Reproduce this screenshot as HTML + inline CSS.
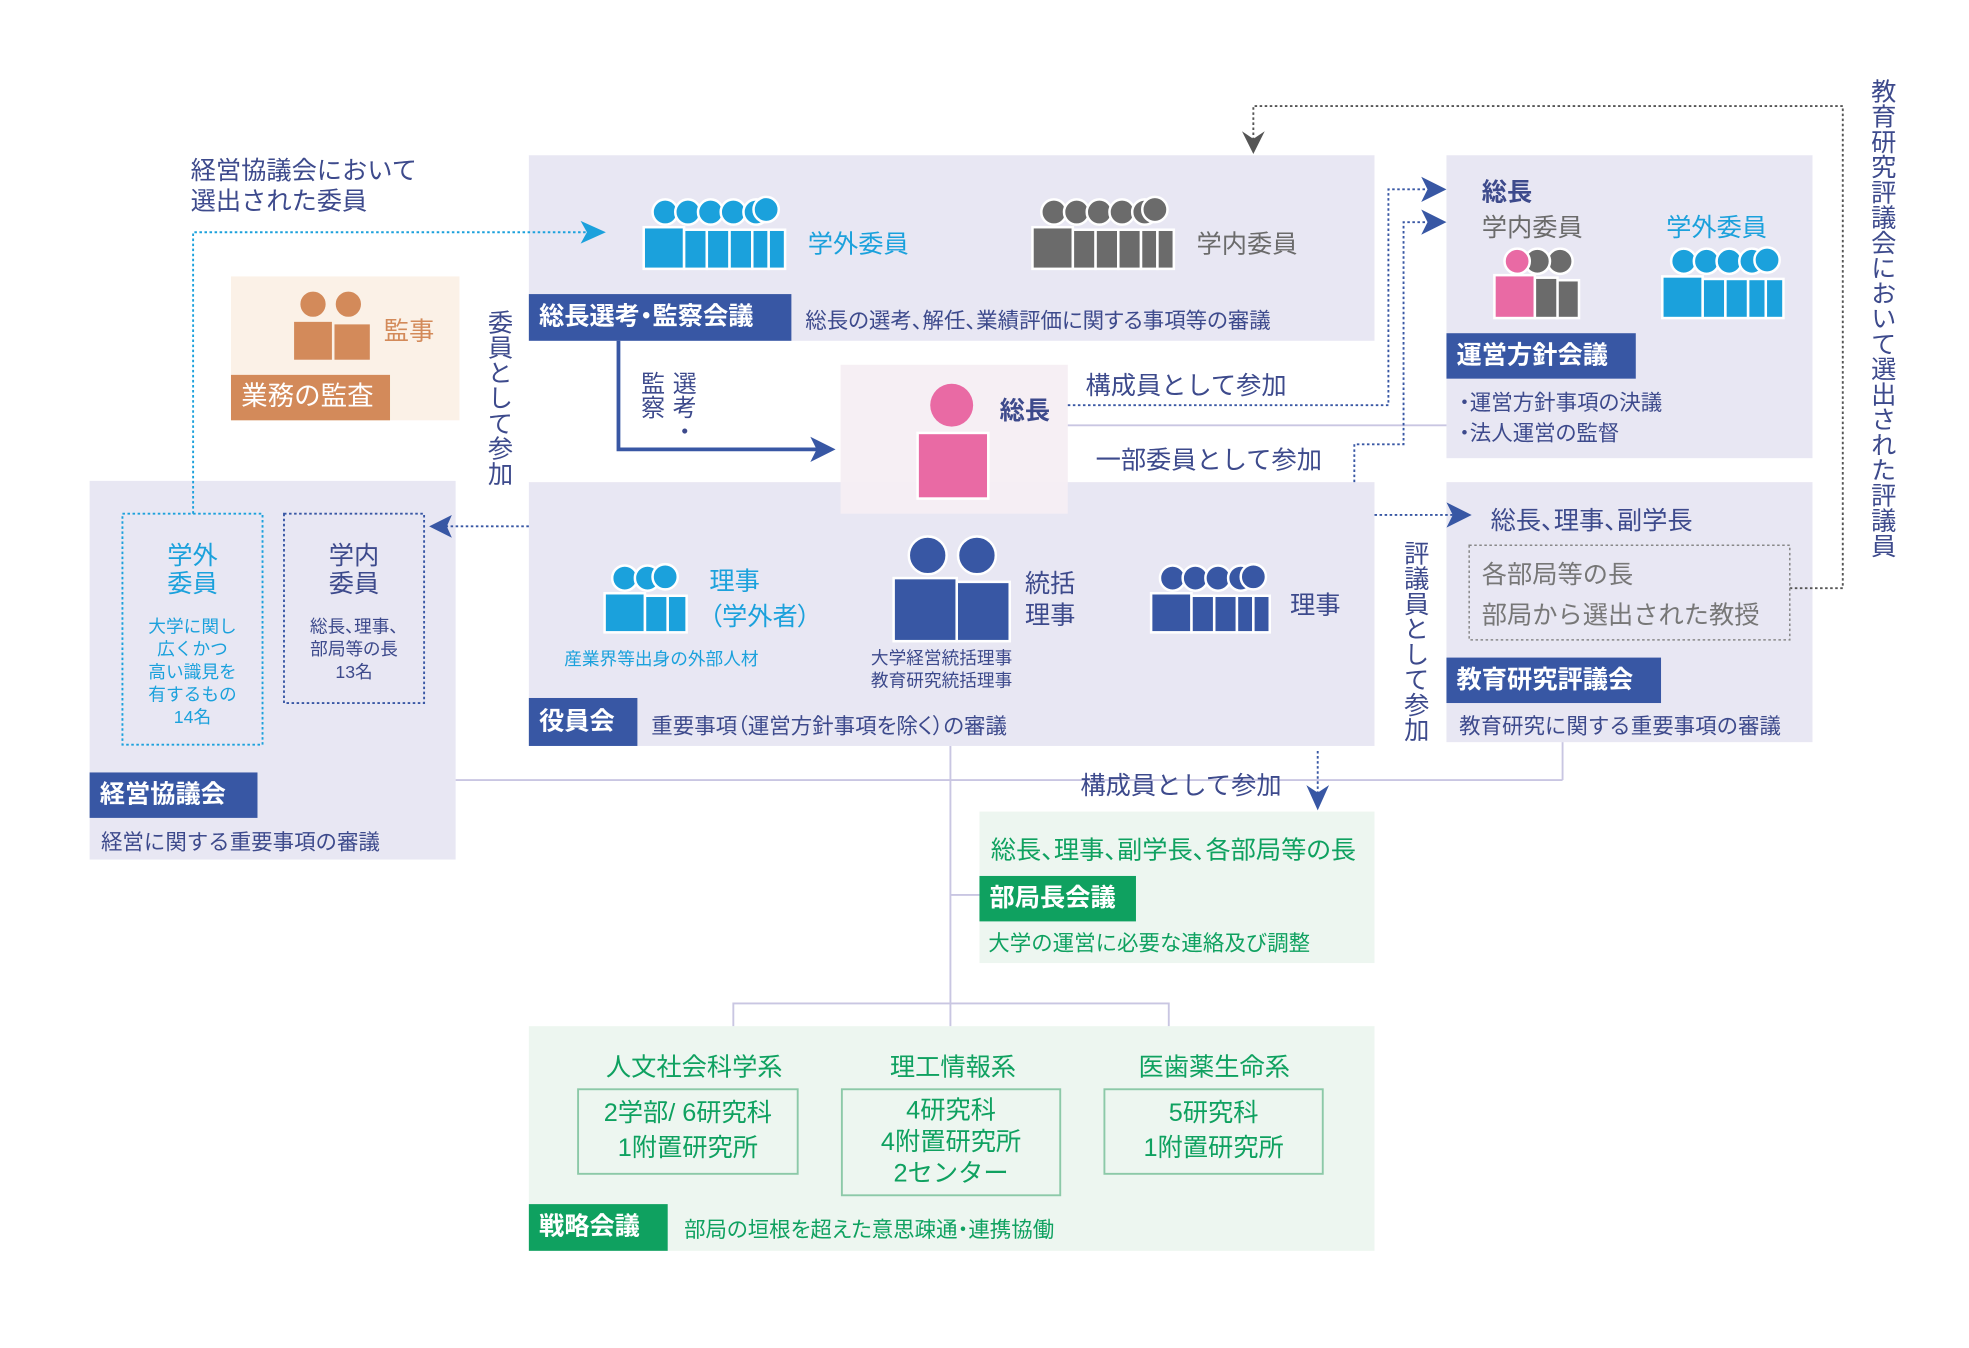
<!DOCTYPE html>
<html><head><meta charset="utf-8">
<style>
html,body{margin:0;padding:0;background:#fff;}
#w{width:1969px;height:1348px;overflow:hidden;position:relative;}
#c{position:absolute;left:0;top:0;width:1560px;height:1068px;transform:scale(1.26218);transform-origin:0 0;font-family:"Liberation Sans","Noto Sans CJK JP",sans-serif;}
.a{position:absolute;white-space:nowrap;}
.box{position:absolute;background:#e8e7f3;}
.g{background:#edf6f0;}
.lab{position:absolute;color:#fff;font-weight:bold;font-size:20px;line-height:36px;padding:0 8px;box-sizing:border-box;}
.nv{background:#3857a4;}
.gr{background:#0fa160;}
.t{font-size:17px;color:#3d4a8c;}
.v{writing-mode:vertical-rl;}
.p{font-feature-settings:"palt";}
svg{position:absolute;left:0;top:0;overflow:visible;}
</style></head><body><div id="w"><div id="c">

<div class="box" style="left:419px;top:123px;width:670px;height:147px"></div>
<div class="box" style="left:183px;top:219px;width:181px;height:114px;background:#fbf1e7"></div>
<div class="box" style="left:71px;top:381px;width:290px;height:300px"></div>
<div class="box" style="left:419px;top:382px;width:670px;height:209px"></div>
<div class="box" style="left:666px;top:289px;width:180px;height:118px;background:#f6eef3;opacity:.95"></div>
<div class="box" style="left:1146px;top:123px;width:290px;height:240px"></div>
<div class="box" style="left:1146px;top:382px;width:290px;height:206px"></div>
<div class="box g" style="left:776px;top:643px;width:313px;height:120px"></div>
<div class="box g" style="left:419px;top:813px;width:670px;height:178px"></div>

<svg width="1560" height="1068">
<g stroke="#c9c6e2" stroke-width="1.5" fill="none">
<line x1="753" y1="591" x2="753" y2="813"/>
<line x1="361" y1="618" x2="1238" y2="618"/>
<line x1="1238" y1="588" x2="1238" y2="618"/>
<line x1="753" y1="709" x2="776" y2="709"/>
<polyline points="581,813 581,795 926,795 926,813"/>
<line x1="846" y1="337" x2="1146" y2="337"/>
</g>
<g fill="none" stroke-width="1.5" stroke-dasharray="2,2">
<polyline stroke="#1ba1dc" points="153,407 153,184 465,184"/>
<polyline stroke="#3857a4" points="419,417 345,417"/>
<polyline stroke="#3857a4" points="846,321 1100,321 1100,150 1138,150"/>
<polyline stroke="#3857a4" points="1073,382 1073,352 1112,352 1112,176 1138,176"/>
<polyline stroke="#3857a4" points="1089,408 1158,408"/>
<polyline stroke="#3857a4" points="1044,595 1044,630"/>
<polyline stroke="#555" points="1418,466 1460,466 1460,84 993,84 993,112"/>
</g>
<polyline fill="none" stroke="#3857a4" stroke-width="3" points="490,270 490,356 650,356"/>
<g fill="#3857a4">
<polygon points="662,356 642,346 647,356 642,366"/>
<polygon points="1146,150 1126,140 1131,150 1126,160"/>
<polygon points="1146,176 1126,166 1131,176 1126,186"/>
<polygon points="1166,408 1146,398 1151,408 1146,418"/>
<polygon points="340,417 358,408 354,417 358,426"/>
<polygon points="1044,642 1035,622 1044,628 1053,622"/>
<polygon points="993,122 984,104 993,110 1002,104" fill="#555"/>
<polygon points="480,184 460,175 465,184 460,193" fill="#1ba1dc"/>
</g>
<rect x="97" y="407" width="111" height="183" fill="none" stroke="#1ba1dc" stroke-width="1.5" stroke-dasharray="2,2"/>
<rect x="225" y="407" width="111" height="150" fill="none" stroke="#3857a4" stroke-width="1.5" stroke-dasharray="2,2"/>
<rect x="1164" y="432" width="254" height="75" fill="none" stroke="#888" stroke-width="1.2" stroke-dasharray="2,2"/>
<g fill="none" stroke="#8cc9a8" stroke-width="1.5">
<rect x="458" y="863" width="174" height="67"/>
<rect x="667" y="863" width="173" height="84"/>
<rect x="875" y="863" width="173" height="67"/>
</g>

<g fill="#1ba1dc" stroke="#fff" stroke-width="2">
<circle cx="527" cy="168" r="10"/><circle cx="545" cy="168" r="10"/><circle cx="563" cy="168" r="10"/><circle cx="581" cy="168" r="10"/><circle cx="599" cy="168" r="10"/><circle cx="607" cy="166" r="10"/>
<rect x="510" y="180" width="32" height="33"/><rect x="542" y="182" width="18" height="31"/><rect x="560" y="182" width="18" height="31"/><rect x="578" y="182" width="18" height="31"/><rect x="596" y="182" width="13" height="31"/><rect x="609" y="182" width="13" height="31"/>
</g>
<g fill="#6b6b6b" stroke="#fff" stroke-width="2">
<circle cx="835" cy="168" r="10"/><circle cx="853" cy="168" r="10"/><circle cx="871" cy="168" r="10"/><circle cx="889" cy="168" r="10"/><circle cx="907" cy="168" r="10"/><circle cx="915" cy="166" r="10"/>
<rect x="818" y="180" width="32" height="33"/><rect x="850" y="182" width="18" height="31"/><rect x="868" y="182" width="18" height="31"/><rect x="886" y="182" width="18" height="31"/><rect x="904" y="182" width="13" height="31"/><rect x="917" y="182" width="13" height="31"/>
</g>
<g fill="#d38a5a" stroke="#fbf1e7" stroke-width="2">
<circle cx="248" cy="241" r="11"/><circle cx="276" cy="241" r="11"/>
<rect x="232" y="254" width="32" height="32"/><rect x="264" y="256" width="30" height="30"/>
</g>
<g fill="#e96aa4">
<circle cx="754" cy="321" r="17"/>
<rect x="727" y="343" width="56" height="52" stroke="#fff" stroke-width="2"/>
</g>
<g stroke="#fff" stroke-width="2">
<circle cx="1236" cy="207" r="10" fill="#6b6b6b"/><circle cx="1218" cy="207" r="10" fill="#6b6b6b"/><circle cx="1202" cy="207" r="10" fill="#e96aa4"/>
<rect x="1233" y="222" width="18" height="30" fill="#6b6b6b"/><rect x="1216" y="220" width="18" height="32" fill="#6b6b6b"/><rect x="1184" y="218" width="32" height="34" fill="#e96aa4"/>
</g>
<g fill="#1ba1dc" stroke="#fff" stroke-width="2">
<circle cx="1334" cy="207" r="10"/><circle cx="1352" cy="207" r="10"/><circle cx="1370" cy="207" r="10"/><circle cx="1388" cy="207" r="10"/><circle cx="1400" cy="206" r="10"/>
<rect x="1317" y="219" width="32" height="33"/><rect x="1349" y="221" width="18" height="31"/><rect x="1367" y="221" width="18" height="31"/><rect x="1385" y="221" width="14" height="31"/><rect x="1399" y="221" width="14" height="31"/>
</g>
<g fill="#1ba1dc" stroke="#fff" stroke-width="2">
<circle cx="495" cy="458" r="10"/><circle cx="513" cy="458" r="10"/><circle cx="527" cy="457" r="10"/>
<rect x="479" y="470" width="32" height="31"/><rect x="511" y="472" width="18" height="29"/><rect x="529" y="472" width="15" height="29"/>
</g>
<g fill="#3857a4" stroke="#fff" stroke-width="2">
<circle cx="735" cy="440" r="15"/><circle cx="774" cy="440" r="15"/>
<rect x="708" y="458" width="50" height="50"/><rect x="758" y="461" width="42" height="47"/>
</g>
<g fill="#3857a4" stroke="#fff" stroke-width="2">
<circle cx="929" cy="458" r="10"/><circle cx="947" cy="458" r="10"/><circle cx="965" cy="458" r="10"/><circle cx="983" cy="458" r="10"/><circle cx="993" cy="457" r="10"/>
<rect x="912" y="470" width="32" height="31"/><rect x="944" y="472" width="18" height="29"/><rect x="962" y="472" width="18" height="29"/><rect x="980" y="472" width="13" height="29"/><rect x="993" y="472" width="13" height="29"/>
</g>
</svg>

<div class="lab nv p" style="left:419px;top:233px;width:208px;height:37px">総長選考・監察会議</div>
<div class="a t p" style="left:638px;top:240px">総長の選考、解任、業績評価に関する事項等の審議</div>
<div class="a" style="left:640px;top:177px;font-size:20px;color:#1ba1dc">学外委員</div>
<div class="a" style="left:948px;top:177px;font-size:20px;color:#6b6b6b">学内委員</div>
<div class="a" style="left:304px;top:246px;font-size:20px;color:#d38a5a">監事</div>
<div class="lab" style="left:183px;top:297px;width:126px;height:36px;background:#d38a5a;font-weight:normal;font-size:21px">業務の監査</div>
<div class="a" style="left:792px;top:309px;font-size:20px;color:#3d4a8c;font-weight:bold">総長</div>
<div class="a" style="left:151px;top:124px;font-size:20px;line-height:24px;color:#3d4a8c">経営協議会において<br>選出された委員</div>
<div class="a v" style="left:380px;top:245px;font-size:20px;color:#3d4a8c">委員として参加</div>
<div class="a v" style="left:528px;top:294px;font-size:19px;line-height:24px;color:#3d4a8c">選考・</div>
<div class="a v" style="left:503px;top:294px;font-size:19px;line-height:24px;color:#3d4a8c">監察</div>
<div class="a" style="left:860px;top:289px;font-size:20px;color:#3d4a8c">構成員として参加</div>
<div class="a" style="left:868px;top:348px;font-size:20px;color:#3d4a8c">一部委員として参加</div>
<div class="a v" style="left:1106px;top:428px;font-size:20px;color:#3d4a8c">評議員として参加</div>
<div class="a" style="left:856px;top:606px;font-size:20px;color:#3d4a8c">構成員として参加</div>
<div class="a v" style="left:1476px;top:62px;font-size:20px;color:#3d4a8c">教育研究評議会において選出された評議員</div>

<div class="a" style="left:97px;top:430px;width:111px;text-align:center;font-size:20px;line-height:22px;color:#1ba1dc">学外<br>委員</div>
<div class="a" style="left:97px;top:487px;width:111px;text-align:center;font-size:14px;line-height:18px;color:#1ba1dc">大学に関し<br>広くかつ<br>高い識見を<br>有するもの<br>14名</div>
<div class="a" style="left:225px;top:430px;width:111px;text-align:center;font-size:20px;line-height:22px;color:#3d4a8c">学内<br>委員</div>
<div class="a p" style="left:225px;top:487px;width:111px;text-align:center;font-size:14px;line-height:18px;color:#3d4a8c">総長、理事、<br>部局等の長<br>13名</div>
<div class="lab nv" style="left:71px;top:612px;width:133px;height:36px">経営協議会</div>
<div class="a t" style="left:80px;top:653px">経営に関する重要事項の審議</div>

<div class="a p" style="left:562px;top:447px;font-size:20px;line-height:28px;color:#1ba1dc">理事<br>（学外者）</div>
<div class="a" style="left:447px;top:512px;font-size:14px;color:#1ba1dc">産業界等出身の外部人材</div>
<div class="a" style="left:812px;top:451px;font-size:20px;line-height:25px;color:#3d4a8c">統括<br>理事</div>
<div class="a" style="left:690px;top:512px;font-size:14px;line-height:18px;color:#3d4a8c">大学経営統括理事<br>教育研究統括理事</div>
<div class="a" style="left:1022px;top:463px;font-size:20px;color:#3d4a8c">理事</div>
<div class="lab nv" style="left:419px;top:553px;width:86px;height:38px;line-height:38px">役員会</div>
<div class="a t p" style="left:516px;top:561px">重要事項（運営方針事項を除く）の審議</div>

<div class="a" style="left:1174px;top:136px;font-size:20px;font-weight:bold;color:#3d4a8c">総長</div>
<div class="a" style="left:1174px;top:164px;font-size:20px;color:#6b6b6b">学内委員</div>
<div class="a" style="left:1320px;top:164px;font-size:20px;color:#1ba1dc">学外委員</div>
<div class="lab nv" style="left:1146px;top:264px;width:150px;height:36px">運営方針会議</div>
<div class="a t p" style="left:1156px;top:308px;line-height:24px">・運営方針事項の決議<br>・法人運営の監督</div>

<div class="a p" style="left:1181px;top:396px;font-size:20px;color:#3d4a8c">総長、理事、副学長</div>
<div class="a" style="left:1174px;top:440px;font-size:20px;line-height:32px;color:#777">各部局等の長<br>部局から選出された教授</div>
<div class="lab nv" style="left:1146px;top:521px;width:170px;height:36px">教育研究評議会</div>
<div class="a t" style="left:1156px;top:561px">教育研究に関する重要事項の審議</div>

<div class="a p" style="left:785px;top:657px;font-size:20px;color:#0fa160">総長、理事、副学長、各部局等の長</div>
<div class="lab gr" style="left:776px;top:694px;width:124px;height:36px">部局長会議</div>
<div class="a" style="left:783px;top:733px;font-size:17px;color:#0fa160">大学の運営に必要な連絡及び調整</div>

<div class="a" style="left:450px;top:829px;width:200px;text-align:center;font-size:20px;color:#0fa160">人文社会科学系</div>
<div class="a" style="left:655px;top:829px;width:200px;text-align:center;font-size:20px;color:#0fa160">理工情報系</div>
<div class="a" style="left:862px;top:829px;width:200px;text-align:center;font-size:20px;color:#0fa160">医歯薬生命系</div>
<div class="a" style="left:458px;top:868px;width:174px;text-align:center;font-size:20px;line-height:28px;color:#0fa160">2学部/ 6研究科<br>1附置研究所</div>
<div class="a" style="left:667px;top:868px;width:173px;text-align:center;font-size:20px;line-height:25px;color:#0fa160">4研究科<br>4附置研究所<br>2センター</div>
<div class="a" style="left:875px;top:868px;width:173px;text-align:center;font-size:20px;line-height:28px;color:#0fa160">5研究科<br>1附置研究所</div>
<div class="lab gr" style="left:419px;top:954px;width:110px;height:37px">戦略会議</div>
<div class="a p" style="left:542px;top:960px;font-size:17px;color:#0fa160">部局の垣根を超えた意思疎通・連携協働</div>

</div></div></body></html>
